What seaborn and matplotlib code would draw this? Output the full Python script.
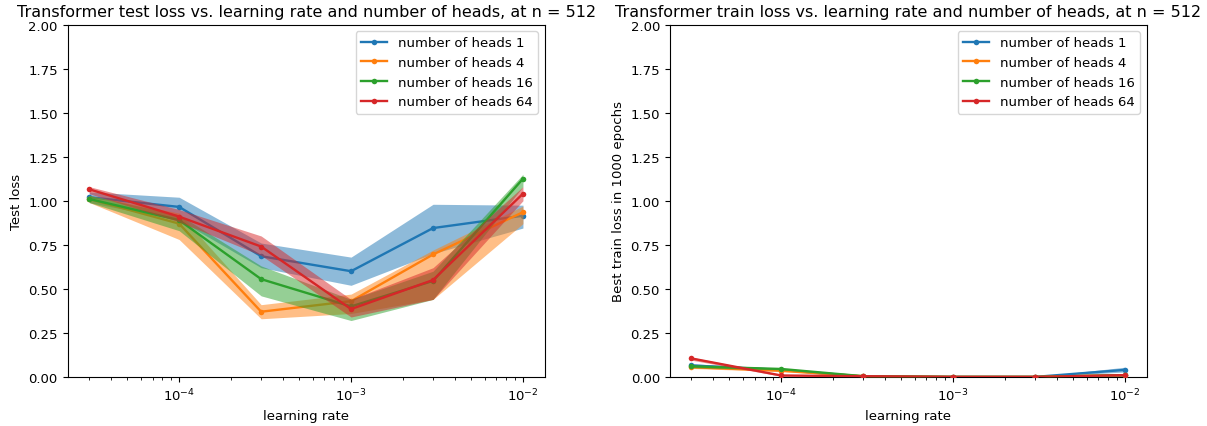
import numpy as np
import pandas as pd
import matplotlib
matplotlib.use("Agg")
import matplotlib.pyplot as plt
import seaborn as sns

# learning rates on x axis
learning_rates = [3e-5, 1e-4, 3e-4, 1e-3, 3e-3, 1e-2]
heads = [1, 4, 16, 64]

# test loss: mean, lower, upper per number of heads
test_mean = {
    1: [1.02, 0.965, 0.685, 0.60, 0.845, 0.915],
    4: [1.01, 0.87, 0.37, 0.43, 0.695, 0.935],
    16: [1.01, 0.89, 0.555, 0.40, 0.545, 1.125],
    64: [1.065, 0.91, 0.74, 0.385, 0.55, 1.04],
}
test_low = {
    1: [0.99, 0.89, 0.62, 0.52, 0.70, 0.845],
    4: [0.99, 0.78, 0.33, 0.36, 0.44, 0.87],
    16: [0.99, 0.83, 0.46, 0.32, 0.44, 1.08],
    64: [1.04, 0.88, 0.69, 0.34, 0.44, 1.00],
}
test_high = {
    1: [1.05, 1.02, 0.76, 0.68, 0.98, 0.975],
    4: [1.03, 0.93, 0.41, 0.47, 0.72, 0.97],
    16: [1.03, 0.92, 0.63, 0.44, 0.60, 1.15],
    64: [1.08, 0.95, 0.80, 0.44, 0.62, 1.08],
}

# best train loss in 1000 epochs
train_mean = {
    1: [0.065, 0.04, 0.002, 0.0, 0.0, 0.04],
    4: [0.055, 0.035, 0.004, 0.0, 0.0, 0.01],
    16: [0.06, 0.045, 0.004, 0.0, 0.0, 0.01],
    64: [0.105, 0.008, 0.004, 0.0, 0.0, 0.01],
}
train_low = {
    1: [0.055, 0.035, 0.0, 0.0, 0.0, 0.028],
    4: [0.048, 0.03, 0.0, 0.0, 0.0, 0.005],
    16: [0.052, 0.04, 0.0, 0.0, 0.0, 0.005],
    64: [0.095, 0.004, 0.0, 0.0, 0.0, 0.005],
}
train_high = {
    1: [0.075, 0.046, 0.005, 0.0, 0.0, 0.055],
    4: [0.062, 0.04, 0.006, 0.0, 0.0, 0.015],
    16: [0.068, 0.05, 0.006, 0.0, 0.0, 0.015],
    64: [0.112, 0.012, 0.006, 0.0, 0.0, 0.015],
}


def to_frame(mean, low, high):
    rows = []
    for h in heads:
        for i, lr in enumerate(learning_rates):
            rows.append({'lr': lr, 'loss': mean[h][i], 'low': low[h][i],
                         'high': high[h][i], 'label': f"number of heads {h}"})
    return pd.DataFrame(rows)


plt.rcParams['font.family'] = ['DejaVu Sans']
plt.rcParams['font.size'] = 9.5

colors = sns.color_palette("tab10", 4)
labels = [f"number of heads {h}" for h in heads]

fig, axes = plt.subplots(1, 2, figsize=(12.07, 4.27), dpi=100)
fig.subplots_adjust(left=0.056, right=0.950, bottom=0.115, top=0.940, wspace=0.262)

panels = [
    (to_frame(test_mean, test_low, test_high), "Test loss",
     "Transformer test loss vs. learning rate and number of heads, at n = 512"),
    (to_frame(train_mean, train_low, train_high), "Best train loss in 1000 epochs",
     "Transformer train loss vs. learning rate and number of heads, at n = 512"),
]

for ax, (df, ylabel, title) in zip(axes, panels):
    sns.lineplot(data=df, x='lr', y='loss', hue='label', hue_order=labels,
                 palette=colors, marker='o', markersize=4, markeredgewidth=0,
                 linewidth=1.7, ax=ax, errorbar=None)
    # each series: its band sits under its own line but over earlier series
    for i, (line, lab, c) in enumerate(zip(ax.get_lines(), labels, colors)):
        line.set_zorder(2 + i + 0.5)
        sub = df[df['label'] == lab]
        ax.fill_between(sub['lr'], sub['low'], sub['high'], color=c, alpha=0.5,
                        linewidth=0, zorder=2 + i)
    ax.set_xscale('log')
    ax.set_ylim(0, 2.0)
    ax.set_yticks(np.arange(0, 2.01, 0.25))
    ax.set_xlabel("learning rate")
    ax.set_ylabel(ylabel)
    ax.set_title(title, fontsize=11.5)
    leg = ax.legend(loc='upper right', fontsize=9.5)
    leg.set_zorder(10)

fig.savefig("out.png", dpi=100)
